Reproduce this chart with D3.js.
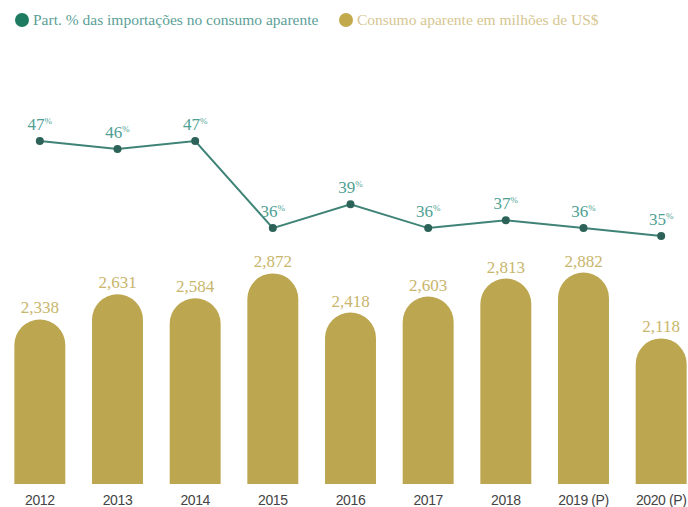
<!DOCTYPE html>
<html>
<head>
<meta charset="utf-8">
<script src="https://cdn.jsdelivr.net/npm/d3@7"></script>
<style>
  body { margin: 0; background: #fff; }
  svg { display: block; }
</style>
</head>
<body>
<div id="chart"></div>
<script>
// data
var years = ["2012", "2013", "2014", "2015", "2016", "2017", "2018", "2019 (P)", "2020 (P)"];
var consumo = [2338, 2631, 2584, 2872, 2418, 2603, 2813, 2882, 2118];
var part_import = [47, 46, 47, 36, 39, 36, 37, 36, 35];
var legend_labels = ["Part. % das importações no consumo aparente",
                     "Consumo aparente em milhões de US$"];

var width = 688, height = 507;
var bar_color = "#bca64f",
    line_color = "#3f8377",
    dot_color = "#2c6258",
    pct_color = "#4f9f94",
    serif = "'Liberation Serif', 'DejaVu Serif', serif";

var svg = d3.select("#chart")
    .append("svg")
    .attr("width", width)
    .attr("height", height);

var x = d3.scaleBand()
    .domain(years)
    .range([1, 700])
    .paddingInner(0.344)
    .paddingOuter(0.172);

// bars sit on a baseline at y=484
var y_bar = d3.scaleLinear()
    .domain([430, 2900])
    .range([484, 271]);

var y_line = d3.scaleLinear()
    .domain([35, 47])
    .range([236, 141]);

// legend
var legend = svg.append("g");
var lg = [
    {x: 22, color: "#1f7a62", text_color: "#5b9f97", label: legend_labels[0]},
    {x: 346, color: "#c2aa4c", text_color: "#d6c690", label: legend_labels[1]}];
lg.forEach(function(d) {
    legend.append("circle")
	.attr("cx", d.x)
	.attr("cy", 20)
	.attr("r", 7)
	.attr("fill", d.color);
    legend.append("text")
	.attr("x", d.x + 11)
	.attr("y", 25)
	.attr("font-family", serif)
	.attr("font-size", 15.5)
	.attr("fill", d.text_color)
	.text(d.label);
});

// rounded-top bars
function bar_path(d, i) {
    var x0 = x(years[i]), w = x.bandwidth(), r = w / 2;
    var top = y_bar(d), bottom = y_bar(430);
    return "M" + x0 + "," + bottom +
	"V" + (top + r) +
	"A" + r + "," + r + " 0 0 1 " + (x0 + w) + "," + (top + r) +
	"V" + bottom + "Z";
}

svg.append("g")
    .selectAll("path")
    .data(consumo)
    .enter()
    .append("path")
    .attr("d", bar_path)
    .attr("fill", bar_color);

svg.append("g")
    .selectAll("text")
    .data(consumo)
    .enter()
    .append("text")
    .attr("x", function(d, i) { return x(years[i]) + x.bandwidth() / 2; })
    .attr("y", function(d) { return y_bar(d) - 6; })
    .attr("text-anchor", "middle")
    .attr("font-family", serif)
    .attr("font-size", 17)
    .attr("fill", "#c8b66c")
    .text(function(d) { return d3.format(",")(d); });

// year axis
var axis = svg.append("g")
    .attr("transform", "translate(0,484)")
    .call(d3.axisBottom(x).tickSize(0).tickPadding(0));
axis.select(".domain").remove();
axis.selectAll("text")
    .attr("dy", "21px")
    .attr("font-family", "'Liberation Sans', Arial, sans-serif")
    .attr("font-size", 14)
    .attr("letter-spacing", -0.4)
    .attr("fill", "#444");

// import share line
var cx = function(d, i) { return x(years[i]) + x.bandwidth() / 2; };
var line = d3.line()
    .x(cx)
    .y(function(d) { return y_line(d); });

svg.append("path")
    .datum(part_import)
    .attr("d", line)
    .attr("fill", "none")
    .attr("stroke", line_color)
    .attr("stroke-width", 2);

svg.append("g")
    .selectAll("circle")
    .data(part_import)
    .enter()
    .append("circle")
    .attr("cx", cx)
    .attr("cy", function(d) { return y_line(d); })
    .attr("r", 4)
    .attr("fill", dot_color);

var pct = svg.append("g")
    .selectAll("text")
    .data(part_import)
    .enter()
    .append("text")
    .attr("x", cx)
    .attr("y", function(d) { return y_line(d) - 11; })
    .attr("text-anchor", "middle")
    .attr("font-family", serif)
    .attr("font-size", 17)
    .attr("fill", pct_color);
pct.append("tspan").text(function(d) { return d; });
pct.append("tspan")
    .attr("font-size", 9)
    .attr("dy", -6)
    .text("%");
</script>
</body>
</html>
